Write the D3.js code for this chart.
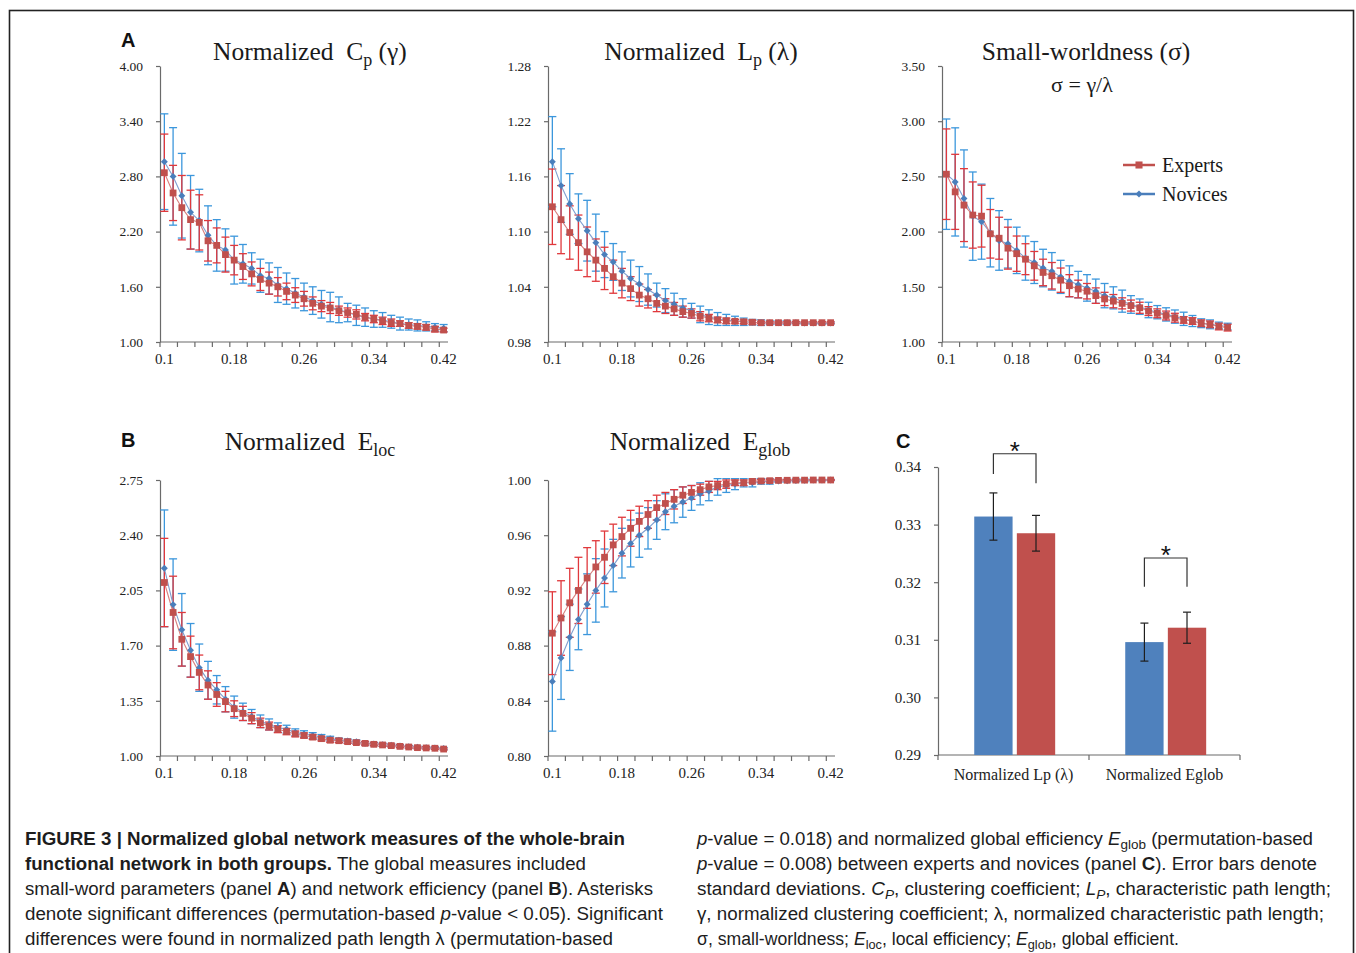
<!DOCTYPE html>
<html>
<head>
<meta charset="utf-8">
<script src="https://cdn.jsdelivr.net/npm/d3@7"></script>
<style>
  body { margin: 0; background: #fff; }
  svg { display: block; }
</style>
</head>
<body>
<svg id="fig" width="1356" height="953"></svg>
<script>
// ---- data ----
const thresholds = [0.10, 0.11, 0.12, 0.13, 0.14, 0.15, 0.16, 0.17, 0.18, 0.19, 0.20, 0.21, 0.22,
  0.23, 0.24, 0.25, 0.26, 0.27, 0.28, 0.29, 0.30, 0.31, 0.32, 0.33, 0.34, 0.35, 0.36, 0.37, 0.38,
  0.39, 0.40, 0.41, 0.42];
const xTickLabels = ["0.1", "0.18", "0.26", "0.34", "0.42"];
const groups = ["Experts", "Novices"];

// normalized Cp (gamma)
const cpNovMean = [2.96, 2.80, 2.59, 2.41, 2.32, 2.16, 2.05, 2.00, 1.89, 1.85, 1.80, 1.72, 1.69, 1.62, 1.58, 1.53, 1.49, 1.45, 1.41, 1.38, 1.35, 1.32, 1.29, 1.27, 1.25, 1.24, 1.22, 1.20, 1.19, 1.18, 1.17, 1.16, 1.15];
const cpNovSd = [0.52, 0.53, 0.46, 0.40, 0.34, 0.32, 0.28, 0.23, 0.26, 0.21, 0.17, 0.18, 0.17, 0.19, 0.17, 0.16, 0.15, 0.15, 0.15, 0.16, 0.14, 0.10, 0.11, 0.10, 0.09, 0.08, 0.07, 0.07, 0.06, 0.06, 0.05, 0.04, 0.04];
const cpExpMean = [2.84, 2.62, 2.46, 2.33, 2.30, 2.10, 2.05, 1.95, 1.89, 1.82, 1.74, 1.68, 1.64, 1.60, 1.55, 1.51, 1.47, 1.42, 1.39, 1.37, 1.34, 1.32, 1.30, 1.27, 1.25, 1.23, 1.21, 1.20, 1.18, 1.17, 1.16, 1.14, 1.13];
const cpExpSd = [0.42, 0.30, 0.35, 0.32, 0.30, 0.22, 0.19, 0.19, 0.16, 0.14, 0.13, 0.12, 0.12, 0.10, 0.09, 0.08, 0.08, 0.07, 0.06, 0.06, 0.05, 0.05, 0.05, 0.04, 0.04, 0.04, 0.04, 0.03, 0.03, 0.03, 0.03, 0.03, 0.02];

// normalized Lp (lambda)
const lpNovMean = [1.176, 1.150, 1.130, 1.114, 1.101, 1.088, 1.075, 1.067, 1.057, 1.049, 1.043, 1.037, 1.031, 1.025, 1.021, 1.017, 1.014, 1.010, 1.007, 1.005, 1.004, 1.003, 1.002, 1.0015, 1.001, 1.001, 1.001, 1.001, 1.001, 1.0005, 1.0005, 1.0005, 1.0005];
const lpNovSd = [0.049, 0.040, 0.033, 0.027, 0.033, 0.031, 0.025, 0.020, 0.021, 0.020, 0.019, 0.017, 0.013, 0.013, 0.012, 0.010, 0.008, 0.009, 0.008, 0.007, 0.006, 0.005, 0.004, 0.003, 0.003, 0.002, 0.002, 0.002, 0.001, 0.001, 0.001, 0.001, 0.001];
const lpExpMean = [1.127, 1.113, 1.099, 1.088, 1.078, 1.069, 1.060, 1.051, 1.044, 1.038, 1.031, 1.027, 1.022, 1.019, 1.016, 1.013, 1.011, 1.008, 1.006, 1.004, 1.003, 1.0025, 1.002, 1.0015, 1.001, 1.001, 1.001, 1.001, 1.001, 1.001, 1.001, 1.001, 1.001];
const lpExpSd = [0.041, 0.037, 0.029, 0.030, 0.027, 0.023, 0.023, 0.018, 0.016, 0.013, 0.012, 0.010, 0.009, 0.008, 0.007, 0.006, 0.005, 0.005, 0.004, 0.003, 0.003, 0.002, 0.002, 0.002, 0.001, 0.001, 0.001, 0.001, 0.001, 0.001, 0.001, 0.001, 0.001];

// small-worldness (sigma)
const swNovMean = [2.52, 2.45, 2.30, 2.14, 2.09, 1.99, 1.92, 1.89, 1.83, 1.76, 1.72, 1.67, 1.64, 1.59, 1.55, 1.52, 1.49, 1.46, 1.42, 1.40, 1.37, 1.34, 1.32, 1.29, 1.27, 1.25, 1.23, 1.21, 1.19, 1.17, 1.16, 1.15, 1.14];
const swNovSd = [0.50, 0.49, 0.44, 0.40, 0.34, 0.31, 0.27, 0.22, 0.21, 0.20, 0.19, 0.17, 0.17, 0.15, 0.14, 0.12, 0.12, 0.11, 0.11, 0.10, 0.10, 0.08, 0.07, 0.07, 0.06, 0.06, 0.06, 0.06, 0.05, 0.04, 0.04, 0.03, 0.03];
const swExpMean = [2.52, 2.36, 2.24, 2.15, 2.14, 1.98, 1.94, 1.85, 1.80, 1.75, 1.69, 1.63, 1.60, 1.56, 1.51, 1.48, 1.46, 1.42, 1.39, 1.37, 1.35, 1.33, 1.31, 1.28, 1.26, 1.24, 1.22, 1.20, 1.19, 1.17, 1.16, 1.14, 1.13];
const swExpSd = [0.41, 0.34, 0.33, 0.30, 0.28, 0.22, 0.19, 0.19, 0.16, 0.14, 0.13, 0.12, 0.12, 0.11, 0.10, 0.08, 0.07, 0.07, 0.06, 0.06, 0.05, 0.05, 0.05, 0.04, 0.04, 0.04, 0.04, 0.03, 0.03, 0.03, 0.03, 0.03, 0.03];

// normalized Eloc
const elNovMean = [2.19, 1.96, 1.80, 1.67, 1.56, 1.48, 1.42, 1.36, 1.31, 1.28, 1.25, 1.22, 1.20, 1.18, 1.17, 1.15, 1.14, 1.13, 1.12, 1.11, 1.10, 1.095, 1.09, 1.08, 1.076, 1.072, 1.068, 1.063, 1.059, 1.055, 1.053, 1.051, 1.047];
const elNovSd = [0.37, 0.29, 0.23, 0.17, 0.15, 0.12, 0.09, 0.08, 0.07, 0.055, 0.045, 0.04, 0.035, 0.03, 0.025, 0.022, 0.02, 0.018, 0.016, 0.015, 0.014, 0.013, 0.012, 0.011, 0.01, 0.01, 0.009, 0.009, 0.008, 0.008, 0.007, 0.007, 0.007];
const elExpMean = [2.10, 1.91, 1.74, 1.63, 1.53, 1.45, 1.39, 1.345, 1.30, 1.27, 1.24, 1.21, 1.19, 1.17, 1.155, 1.14, 1.13, 1.12, 1.11, 1.10, 1.097, 1.091, 1.085, 1.08, 1.074, 1.07, 1.066, 1.061, 1.057, 1.053, 1.051, 1.049, 1.044];
const elExpSd = [0.28, 0.23, 0.17, 0.13, 0.11, 0.09, 0.075, 0.065, 0.05, 0.045, 0.035, 0.03, 0.025, 0.022, 0.02, 0.018, 0.016, 0.015, 0.014, 0.013, 0.012, 0.011, 0.01, 0.01, 0.009, 0.009, 0.008, 0.008, 0.007, 0.007, 0.007, 0.006, 0.006];

// normalized Eglob
const egNovMean = [0.854, 0.871, 0.886, 0.899, 0.910, 0.920, 0.929, 0.938, 0.947, 0.954, 0.960, 0.965, 0.971, 0.977, 0.981, 0.984, 0.987, 0.990, 0.992, 0.995, 0.996, 0.997, 0.998, 0.998, 0.999, 0.999, 0.9993, 0.9995, 0.9997, 0.9998, 0.9999, 0.9999, 1.0];
const egNovSd = [0.036, 0.030, 0.024, 0.022, 0.022, 0.023, 0.021, 0.019, 0.018, 0.017, 0.016, 0.015, 0.014, 0.013, 0.012, 0.011, 0.009, 0.008, 0.007, 0.006, 0.005, 0.004, 0.003, 0.003, 0.002, 0.002, 0.001, 0.001, 0.001, 0.001, 0.0005, 0.0005, 0.0005];
const egExpMean = [0.889, 0.900, 0.911, 0.920, 0.929, 0.937, 0.944, 0.953, 0.959, 0.965, 0.970, 0.975, 0.980, 0.983, 0.986, 0.989, 0.991, 0.993, 0.995, 0.996, 0.997, 0.998, 0.998, 0.999, 0.9993, 0.9995, 0.9997, 0.9998, 0.9999, 0.9999, 1.0, 1.0, 1.0];
const egExpSd = [0.030, 0.027, 0.025, 0.024, 0.022, 0.019, 0.019, 0.015, 0.014, 0.013, 0.011, 0.010, 0.009, 0.008, 0.007, 0.006, 0.005, 0.004, 0.004, 0.003, 0.003, 0.002, 0.002, 0.001, 0.001, 0.001, 0.0008, 0.0005, 0.0005, 0.0003, 0.0003, 0.0003, 0.0003];

// panel C bars
const barGroups = ["Normalized Lp (λ)", "Normalized Eglob"];
const barNovMean = [0.3314, 0.3096];
const barNovSd = [0.0041, 0.0033];
const barExpMean = [0.3285, 0.3121];
const barExpSd = [0.0031, 0.0027];
const barTicks = [0.29, 0.30, 0.31, 0.32, 0.33, 0.34];
// significance brackets: bracket top, left leg end, right leg end (in y units)
const sigTop = [0.3423, 0.3242];
const sigLeft = [0.3388, 0.3192];
const sigRight = [0.3372, 0.3192];

// ---- style ----
const serif = "'Liberation Serif', 'Times New Roman', serif";
const sans = "'Liberation Sans', Arial, sans-serif";
const narrow = "'Liberation Sans Narrow', 'Arial Narrow', 'Liberation Sans', sans-serif";
const axisColor = "#6a6a6a";
const colors = {
  Novices: { marker: "#4a7ebb", line: "#7f9fd0", err: "#3c97dc" },
  Experts: { marker: "#c0504d", line: "#d98080", err: "#e0383c" }
};
const barColors = { Novices: "#4f81bd", Experts: "#c0504d" };

const svg = d3.select("#fig");

// outer frame
svg.append("rect")
  .attr("x", 9.5).attr("y", 10.5)
  .attr("width", 1344).attr("height", 980)
  .attr("fill", "none").attr("stroke", "#222").attr("stroke-width", 1.6);

// text with sub/bold/italic segments: b = bold, i = italic, s = subscript
function richText(textSel, segs, subShift, subSize) {
  let shifted = 0;
  segs.forEach(([t, s]) => {
    const ts = textSel.append("tspan").text(t);
    const sub = s.includes("s");
    const want = sub ? subShift : 0;
    if (want !== shifted) { ts.attr("dy", want - shifted); shifted = want; }
    if (sub) ts.attr("font-size", subSize);
    if (s.includes("b")) ts.attr("font-weight", "bold");
    if (s.includes("i")) ts.attr("font-style", "italic");
  });
}

function styleAxis(g) {
  g.select(".domain").attr("stroke", axisColor).attr("stroke-width", 1.2);
  g.selectAll(".tick line").attr("stroke", axisColor).attr("stroke-width", 1.2);
  g.selectAll(".tick text").attr("fill", "#222");
}

const panels = [
  { x0: 160, x1: 448, yTop: 66, yBot: 342, domain: [1, 4], ticks: [1, 1.6, 2.2, 2.8, 3.4, 4],
    Novices: [cpNovMean, cpNovSd], Experts: [cpExpMean, cpExpSd],
    title: [["Normalized  C", ""], ["p", "s"], [" (γ)", ""]], tx: 310, ty: 60 },
  { x0: 548, x1: 835, yTop: 66, yBot: 342, domain: [0.98, 1.28], ticks: [0.98, 1.04, 1.10, 1.16, 1.22, 1.28],
    Novices: [lpNovMean, lpNovSd], Experts: [lpExpMean, lpExpSd],
    title: [["Normalized  L", ""], ["p", "s"], [" (λ)", ""]], tx: 701, ty: 60 },
  { x0: 942, x1: 1232, yTop: 66, yBot: 342, domain: [1, 3.5], ticks: [1, 1.5, 2, 2.5, 3, 3.5],
    Novices: [swNovMean, swNovSd], Experts: [swExpMean, swExpSd],
    title: [["Small-worldness (σ)", ""]], tx: 1086, ty: 60, legend: true },
  { x0: 160, x1: 448, yTop: 480, yBot: 756, domain: [1, 2.75], ticks: [1, 1.35, 1.7, 2.05, 2.4, 2.75],
    Novices: [elNovMean, elNovSd], Experts: [elExpMean, elExpSd],
    title: [["Normalized  E", ""], ["loc", "s"]], tx: 310, ty: 450 },
  { x0: 548, x1: 835, yTop: 480, yBot: 756, domain: [0.8, 1.0], ticks: [0.8, 0.84, 0.88, 0.92, 0.96, 1.0],
    Novices: [egNovMean, egNovSd], Experts: [egExpMean, egExpSd],
    title: [["Normalized  E", ""], ["glob", "s"]], tx: 700, ty: 450 }
];

function linePanel(p) {
  const g = svg.append("g");
  const x = d3.scaleBand().domain(thresholds).range([p.x0, p.x1]).padding(0);
  const y = d3.scaleLinear().domain(p.domain).range([p.yBot, p.yTop]);
  const cx = i => x(thresholds[i]) + x.bandwidth() / 2;

  const ya = g.append("g")
    .attr("transform", `translate(${p.x0},0)`)
    .call(d3.axisLeft(y).tickValues(p.ticks).tickFormat(d3.format(".2f"))
      .tickSize(4).tickSizeOuter(0).tickPadding(13));
  ya.attr("font-family", serif).attr("font-size", 13.5);
  styleAxis(ya);

  const xa = g.append("g").attr("transform", `translate(0,${p.yBot})`);
  xa.append("line").attr("x1", p.x0).attr("x2", p.x1)
    .attr("stroke", axisColor).attr("stroke-width", 1.2);
  xa.selectAll("line.tk").data(d3.range(0, thresholds.length, 2)).join("line")
    .attr("class", "tk")
    .attr("x1", k => p.x0 + k * x.step()).attr("x2", k => p.x0 + k * x.step())
    .attr("y1", 0).attr("y2", 5)
    .attr("stroke", axisColor).attr("stroke-width", 1.2);
  xa.selectAll("text").data(xTickLabels).join("text")
    .attr("x", d => x(+d) + x.bandwidth() / 2).attr("y", 22)
    .attr("text-anchor", "middle")
    .attr("font-family", serif).attr("font-size", 15).attr("fill", "#222")
    .text(d => d);

  const order = ["Novices", "Experts"];
  // error bars
  order.forEach(name => {
    const [mean, sd] = p[name];
    const eg = g.append("g").attr("stroke", colors[name].err).attr("stroke-width", 1.3);
    mean.forEach((m, i) => {
      const hi = y(m + sd[i]), lo = y(m - sd[i]);
      eg.append("line").attr("x1", cx(i)).attr("x2", cx(i)).attr("y1", hi).attr("y2", lo);
      eg.append("line").attr("x1", cx(i) - 4).attr("x2", cx(i) + 4).attr("y1", hi).attr("y2", hi);
      eg.append("line").attr("x1", cx(i) - 4).attr("x2", cx(i) + 4).attr("y1", lo).attr("y2", lo);
    });
  });
  // lines
  order.forEach(name => {
    g.append("path").datum(p[name][0])
      .attr("d", d3.line().x((d, i) => cx(i)).y(d => y(d)))
      .attr("fill", "none").attr("stroke", colors[name].line).attr("stroke-width", 1.1);
  });
  // markers
  order.forEach(name => {
    const isNov = name === "Novices";
    const sym = d3.symbol(d3.symbolSquare, isNov ? 24 : 46);
    g.append("g").selectAll("path").data(p[name][0]).join("path")
      .attr("d", sym)
      .attr("transform", (d, i) => `translate(${cx(i)},${y(d)})` + (isNov ? " rotate(45)" : ""))
      .attr("fill", colors[name].marker);
  });

  const t = svg.append("text")
    .attr("x", p.tx).attr("y", p.ty)
    .attr("text-anchor", "middle")
    .attr("font-family", serif).attr("font-size", 25.5).attr("fill", "#1a1a1a")
    .style("white-space", "pre");
  richText(t, p.title, 6, 18);

  if (p.legend) {
    svg.append("text")
      .attr("x", 1082).attr("y", 92)
      .attr("text-anchor", "middle")
      .attr("font-family", serif).attr("font-size", 22).attr("fill", "#1a1a1a")
      .text("σ = γ/λ");
    const lg = svg.append("g").attr("transform", "translate(1123,165)");
    groups.forEach((name, k) => {
      const row = lg.append("g").attr("transform", `translate(0,${k * 29})`);
      row.append("line").attr("x1", 0).attr("x2", 32)
        .attr("stroke", colors[name].marker).attr("stroke-width", 2.5);
      const isNov = name === "Novices";
      row.append("path")
        .attr("d", d3.symbol(d3.symbolSquare, isNov ? 24 : 50))
        .attr("transform", `translate(16,0)` + (isNov ? " rotate(45)" : ""))
        .attr("fill", colors[name].marker);
      row.append("text").attr("x", 39).attr("y", 7)
        .attr("font-family", serif).attr("font-size", 20).attr("fill", "#1a1a1a")
        .text(name);
    });
  }
}

panels.forEach(linePanel);

// ---- panel C: bar chart ----
(function barPanel() {
  const left = 938, right = 1240, top = 467, bottom = 755;
  const g = svg.append("g");
  const x0 = d3.scaleBand().domain(barGroups).range([left, right]);
  const bw = x0.bandwidth();
  const x1 = d3.scaleBand().domain(["Novices", "Experts"])
    .range([0.24 * bw, 0.776 * bw]).paddingInner(0.1);
  const y = d3.scaleLinear().domain([0.29, 0.34]).range([bottom, top]);

  const ya = g.append("g").attr("transform", `translate(${left},0)`)
    .call(d3.axisLeft(y).tickValues(barTicks).tickFormat(d3.format(".2f"))
      .tickSize(4).tickSizeOuter(0).tickPadding(13));
  ya.attr("font-family", serif).attr("font-size", 15);
  styleAxis(ya);

  const xa = g.append("g").attr("transform", `translate(0,${bottom})`);
  xa.append("line").attr("x1", left).attr("x2", right)
    .attr("stroke", axisColor).attr("stroke-width", 1.2);
  xa.selectAll("line.tk").data(d3.range(barGroups.length + 1)).join("line")
    .attr("class", "tk")
    .attr("x1", k => left + k * x0.step()).attr("x2", k => left + k * x0.step())
    .attr("y1", 0).attr("y2", 5)
    .attr("stroke", axisColor).attr("stroke-width", 1.2);
  xa.selectAll("text").data(barGroups).join("text")
    .attr("x", d => x0(d) + bw / 2).attr("y", 25)
    .attr("text-anchor", "middle")
    .attr("font-family", serif).attr("font-size", 16).attr("fill", "#222")
    .text(d => d);

  const series = { Novices: [barNovMean, barNovSd], Experts: [barExpMean, barExpSd] };
  barGroups.forEach((cat, ci) => {
    ["Novices", "Experts"].forEach(name => {
      const [mean] = series[name];
      g.append("rect")
        .attr("x", x0(cat) + x1(name)).attr("y", y(mean[ci]))
        .attr("width", x1.bandwidth()).attr("height", bottom - y(mean[ci]))
        .attr("fill", barColors[name]);
    });
  });
  // error bars on top of bars, then brackets
  barGroups.forEach((cat, ci) => {
    ["Novices", "Experts"].forEach(name => {
      const [mean, sd] = series[name];
      const c = x0(cat) + x1(name) + x1.bandwidth() / 2;
      const hi = y(mean[ci] + sd[ci]), lo = y(mean[ci] - sd[ci]);
      const eg = g.append("g").attr("stroke", "#1e1e1e").attr("stroke-width", 1.2);
      eg.append("line").attr("x1", c).attr("x2", c).attr("y1", hi).attr("y2", lo);
      eg.append("line").attr("x1", c - 4).attr("x2", c + 4).attr("y1", hi).attr("y2", hi);
      eg.append("line").attr("x1", c - 4).attr("x2", c + 4).attr("y1", lo).attr("y2", lo);
    });
    const cl = x0(cat) + x1("Novices") + x1.bandwidth() / 2;
    const cr = x0(cat) + x1("Experts") + x1.bandwidth() / 2;
    g.append("path")
      .attr("d", `M${cl},${y(sigLeft[ci])}V${y(sigTop[ci])}H${cr}V${y(sigRight[ci])}`)
      .attr("fill", "none").attr("stroke", "#333").attr("stroke-width", 1.2);
    g.append("text")
      .attr("x", (cl + cr) / 2).attr("y", y(sigTop[ci]) + 6)
      .attr("text-anchor", "middle")
      .attr("font-family", sans).attr("font-size", 26).attr("fill", "#111")
      .text("*");
  });
})();

// panel letters
const letters = [["A", 121, 47], ["B", 121, 447], ["C", 896, 448]];
svg.selectAll("text.letter").data(letters).join("text")
  .attr("class", "letter")
  .attr("x", d => d[1]).attr("y", d => d[2])
  .attr("font-family", sans).attr("font-weight", "bold").attr("font-size", 20)
  .attr("fill", "#111")
  .text(d => d[0]);

// ---- caption ----
const captionLeft = [
  [["FIGURE 3 | Normalized global network measures of the whole-brain", "b"]],
  [["functional network in both groups.", "b"], [" The global measures included", ""]],
  [["small-word parameters (panel ", ""], ["A", "b"], [") and network efficiency (panel ", ""], ["B", "b"], ["). Asterisks", ""]],
  [["denote significant differences (permutation-based ", ""], ["p", "i"], ["-value < 0.05). Significant", ""]],
  [["differences were found in normalized path length λ (permutation-based", ""]]
];
const captionRight = [
  [["p", "i"], ["-value = 0.018) and normalized global efficiency ", ""], ["E", "i"], ["glob", "s"], [" (permutation-based", ""]],
  [["p", "i"], ["-value = 0.008) between experts and novices (panel ", ""], ["C", "b"], ["). Error bars denote", ""]],
  [["standard deviations. ", ""], ["C", "i"], ["P", "is"], [", clustering coefficient; ", ""], ["L", "i"], ["P", "is"], [", characteristic path length;", ""]],
  [["γ, normalized clustering coefficient; λ, normalized characteristic path length;", ""]],
  [["σ, small-worldness; ", ""], ["E", "i"], ["loc", "s"], [", local efficiency; ", ""], ["E", "i"], ["glob", "s"], [", global efficient.", ""]]
];
const captionLeftWidths = [600, 561, 628, 638, 588];
const captionRightWidths = [616, 620, 634, 627, 482];

function caption(lines, widths, x) {
  lines.forEach((segs, k) => {
    const t = svg.append("text")
      .attr("x", x).attr("y", 845 + k * 25)
      .attr("font-family", narrow).attr("font-size", 18).attr("fill", "#1d1d1d")
      .attr("textLength", widths[k]).attr("lengthAdjust", "spacingAndGlyphs")
      .style("white-space", "pre");
    richText(t, segs, 4, 13);
  });
}
caption(captionLeft, captionLeftWidths, 25);
caption(captionRight, captionRightWidths, 697);
</script>
</body>
</html>
